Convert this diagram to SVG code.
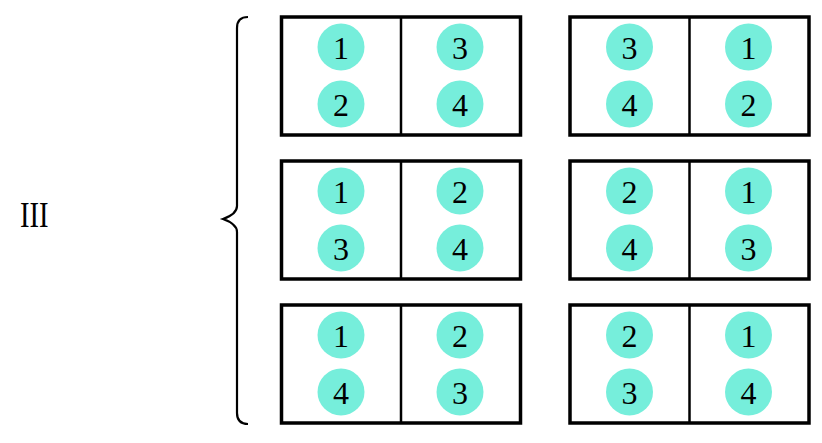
<svg xmlns="http://www.w3.org/2000/svg" width="822" height="443" viewBox="0 0 822 443">
<style>
.box{fill:#fff;stroke:#000;stroke-width:3.5}
.div{stroke:#000;stroke-width:2.5}
.c{fill:#76EEDB}
.n{font-family:"Liberation Serif",serif;font-size:32px;text-anchor:middle;fill:#000}
.t{font-family:"Liberation Serif",serif;font-size:35px;fill:#000}
.brace{fill:none;stroke:#000;stroke-width:2.2}
</style>
<rect width="822" height="443" fill="#fff"/>
<text x="20" y="226.5" class="t" textLength="28.5" lengthAdjust="spacingAndGlyphs">III</text>
<g id="connectors">
<path class="brace" d="M248,17 Q237,17 237,28 L237,206 Q237,214 223,219 Q237,224 237,232 L237,413 Q237,424 248,424"/>
</g>
<defs>
<g id="pane">
<rect class="box" x="0" y="0" width="239" height="118"/>
<line class="div" x1="119.5" y1="0" x2="119.5" y2="118"/>
<circle class="c" cx="59.5" cy="30" r="23.5"/>
<circle class="c" cx="59.5" cy="87" r="23.5"/>
<circle class="c" cx="178.5" cy="30" r="23.5"/>
<circle class="c" cx="178.5" cy="87" r="23.5"/>
</g>
</defs>
<g id="b11" transform="translate(281.5,17)"><use href="#pane"/>
<text class="n" x="59.5" y="41.5">1</text><text class="n" x="59.5" y="98.5">2</text><text class="n" x="178.5" y="41.5">3</text><text class="n" x="178.5" y="98.5">4</text></g>
<g id="b12" transform="translate(570,17)"><use href="#pane"/>
<text class="n" x="59.5" y="41.5">3</text><text class="n" x="59.5" y="98.5">4</text><text class="n" x="178.5" y="41.5">1</text><text class="n" x="178.5" y="98.5">2</text></g>
<g id="b21" transform="translate(281.5,161)"><use href="#pane"/>
<text class="n" x="59.5" y="41.5">1</text><text class="n" x="59.5" y="98.5">3</text><text class="n" x="178.5" y="41.5">2</text><text class="n" x="178.5" y="98.5">4</text></g>
<g id="b22" transform="translate(570,161)"><use href="#pane"/>
<text class="n" x="59.5" y="41.5">2</text><text class="n" x="59.5" y="98.5">4</text><text class="n" x="178.5" y="41.5">1</text><text class="n" x="178.5" y="98.5">3</text></g>
<g id="b31" transform="translate(281.5,305)"><use href="#pane"/>
<text class="n" x="59.5" y="41.5">1</text><text class="n" x="59.5" y="98.5">4</text><text class="n" x="178.5" y="41.5">2</text><text class="n" x="178.5" y="98.5">3</text></g>
<g id="b32" transform="translate(570,305)"><use href="#pane"/>
<text class="n" x="59.5" y="41.5">2</text><text class="n" x="59.5" y="98.5">3</text><text class="n" x="178.5" y="41.5">1</text><text class="n" x="178.5" y="98.5">4</text></g>
</svg>
